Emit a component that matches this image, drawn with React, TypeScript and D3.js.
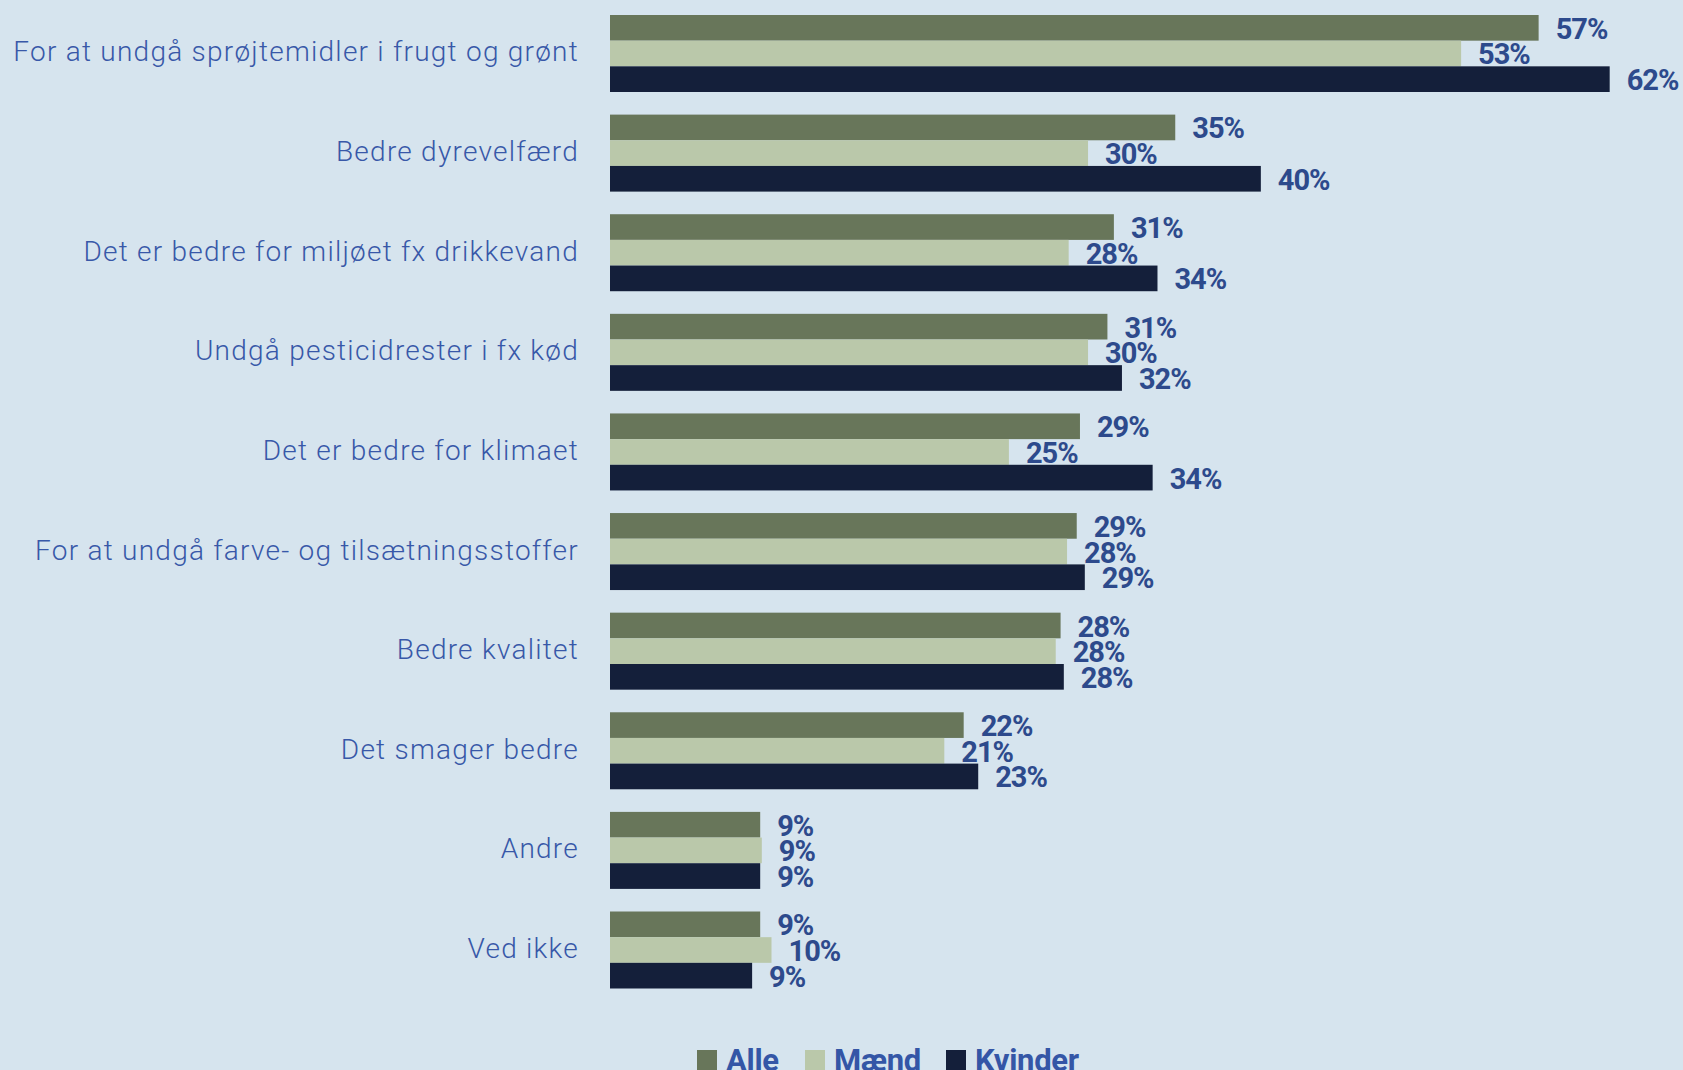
import React, { useEffect } from "react";
import * as d3 from "d3";

const categories = [
  "For at undgå sprøjtemidler i frugt og grønt",
  "Bedre dyrevelfærd",
  "Det er bedre for miljøet fx drikkevand",
  "Undgå pesticidrester i fx kød",
  "Det er bedre for klimaet",
  "For at undgå farve- og tilsætningsstoffer",
  "Bedre kvalitet",
  "Det smager bedre",
  "Andre",
  "Ved ikke",
];

const seriesNames = ["Alle", "Mænd", "Kvinder"];
const alle = [57.5, 35.0, 31.2, 30.8, 29.1, 28.9, 27.9, 21.9, 9.3, 9.3];
const maend = [52.7, 29.6, 28.4, 29.6, 24.7, 28.3, 27.6, 20.7, 9.4, 10.0];
const kvinder = [61.9, 40.3, 33.9, 31.7, 33.6, 29.4, 28.1, 22.8, 9.3, 8.8];
const alleLabels = ["57%", "35%", "31%", "31%", "29%", "29%", "28%", "22%", "9%", "9%"];
const maendLabels = ["53%", "30%", "28%", "30%", "25%", "28%", "28%", "21%", "9%", "10%"];
const kvinderLabels = ["62%", "40%", "34%", "32%", "34%", "29%", "28%", "23%", "9%", "9%"];

const colors = ["#68765a", "#bac8aa", "#141f3a"];

export default function App() {
  useEffect(() => {
    document.body.style.margin = "0";
  }, []);

  const W = 1683;
  const H = 1070;
  const values = [alle, maend, kvinder];
  const labels = [alleLabels, maendLabels, kvinderLabels];

  const y = d3.scaleBand<string>().domain(categories).range([15, 988.5]).paddingInner(0.227).paddingOuter(0);
  const sub = d3.scaleBand<string>().domain(seriesNames).range([0, y.bandwidth()]).padding(0);
  const x = d3.scaleLinear().domain([0, 100]).range([610, 610 + 1615]);

  const labelFont = "Roboto, 'Noto Sans', sans-serif";
  const legendX = [697, 805, 946];

  return (
    <svg width={W} height={H} style={{ display: "block", background: "#d6e4ee" }}>
      <rect x={0} y={0} width={W} height={H} fill="#d6e4ee" />
      {categories.map((c, i) => (
        <g key={c}>
          <text
            x={579}
            y={(y(c) as number) + y.bandwidth() / 2 - 1.5}
            textAnchor="end"
            dominantBaseline="central"
            fontFamily={labelFont}
            fontWeight={300}
            fontSize={28}
            letterSpacing={1.25}
            fill="#3858a8"
          >
            {c}
          </text>
          {seriesNames.map((s, k) => {
            const y0 = (y(c) as number) + (sub(s) as number);
            const v = values[k][i];
            return (
              <g key={s}>
                <rect x={x(0)} y={y0} width={x(v) - x(0)} height={sub.bandwidth()} fill={colors[k]} />
                <text
                  x={x(v) + 17}
                  y={y0 + sub.bandwidth() / 2 + 1}
                  dominantBaseline="central"
                  fontFamily={labelFont}
                  fontWeight={700}
                  fontSize={29}
                  letterSpacing={-1}
                  fill="#2d4a8c"
                >
                  {labels[k][i]}
                </text>
              </g>
            );
          })}
        </g>
      ))}
      {seriesNames.map((s, k) => (
        <g key={s}>
          <rect x={legendX[k]} y={1050} width={20} height={20} fill={colors[k]} />
          <text
            x={legendX[k] + 29}
            y={1071}
            fontFamily={labelFont}
            fontWeight={700}
            fontSize={31}
            letterSpacing={-0.3}
            fill="#3456a6"
          >
            {s}
          </text>
        </g>
      ))}
    </svg>
  );
}
